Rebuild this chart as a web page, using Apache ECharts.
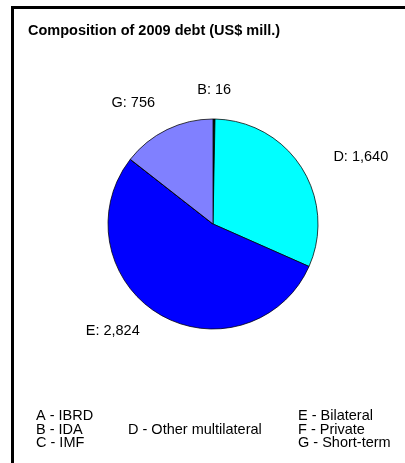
<!DOCTYPE html>
<html>
<head>
<meta charset="utf-8">
<script src="https://cdn.jsdelivr.net/npm/echarts@6/dist/echarts.min.js"></script>
<style>
html,body{margin:0;padding:0;background:#fff;}
#chart{width:405px;height:463px;}
</style>
</head>
<body>
<div id="chart"></div>
<script>
// ---- data ----
var titleText = 'Composition of 2009 debt (US$ mill.)';
var codes = ['A', 'B', 'C', 'D', 'E', 'F', 'G'];
var names = ['IBRD', 'IDA', 'IMF', 'Other multilateral', 'Bilateral', 'Private', 'Short-term'];
var values = [0, 16, 0, 1640, 2824, 0, 756];

// ---- styles ----
var FONT = '"Liberation Sans", Arial, sans-serif';
var colors = {A: '#000080', B: '#0d2e0d', C: '#993366', D: '#00ffff', E: '#0000ff', F: '#800000', G: '#8080ff'};
var labelLines = {
  B: {length: 29.5, length2: -22},
  D: {length: 20, length2: 10},
  E: {length: 20, length2: 4},
  G: {length: 29.6, length2: -6}
};
// legend layout: column x, row index
var legendCols = {A: [36, 0], B: [36, 1], C: [36, 2], D: [128, 1], E: [298, 0], F: [298, 1], G: [298, 2]};
var legendRowY = [416, 429.5, 443];

var pieData = codes.map(function (c, i) {
  var ll = labelLines[c] || {length: 15, length2: 10};
  return {
    name: c,
    value: values[i],
    itemStyle: {color: colors[c]},
    label: {show: values[i] > 0},
    labelLine: {show: false, length: ll.length, length2: ll.length2}
  };
});

var legendTexts = codes.map(function (c, i) {
  var pos = legendCols[c];
  return {
    type: 'text',
    x: pos[0],
    y: legendRowY[pos[1]],
    style: {
      text: c + ' - ' + names[i],
      font: '14.5px ' + FONT,
      fill: '#000',
      textVerticalAlign: 'middle',
      verticalAlign: 'middle'
    }
  };
});

var chart = echarts.init(document.getElementById('chart'), null, {renderer: 'canvas'});
chart.setOption({
  animation: false,
  backgroundColor: '#fff',
  title: {
    text: titleText,
    left: 28,
    top: 23,
    padding: 0,
    textStyle: {fontFamily: FONT, fontSize: 14.5, fontWeight: 'bold', color: '#000'}
  },
  graphic: [{
    type: 'rect',
    shape: {x: 12.5, y: 7.5, width: 600, height: 600},
    style: {fill: 'none', stroke: '#000', lineWidth: 3},
    silent: true
  }].concat(legendTexts),
  series: [{
    type: 'pie',
    center: [213, 224],
    radius: 105,
    startAngle: 90,
    clockwise: true,
    avoidLabelOverlap: false,
    emphasis: {disabled: true},
    itemStyle: {borderColor: '#000', borderWidth: 0.75},
    label: {
      position: 'outside',
      distanceToLabelLine: 5,
      fontFamily: FONT,
      fontSize: 14.5,
      color: '#000',
      formatter: function (p) {
        return p.name + ': ' + Number(p.value).toLocaleString('en-US');
      }
    },
    data: pieData
  }]
});
</script>
</body>
</html>
